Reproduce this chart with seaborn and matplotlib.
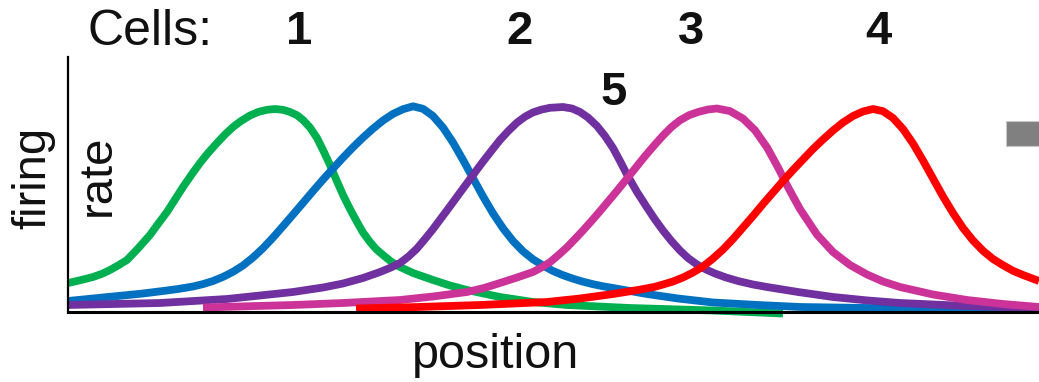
import matplotlib
matplotlib.use("Agg")
import matplotlib.pyplot as plt
from matplotlib.patches import Rectangle
import pandas as pd
import seaborn as sns

# Place-cell tuning curves: firing rate along the track position
pos_cell1 = [0.0, 1.2, 2.5, 3.4, 4.2, 5.0, 5.9, 7.0, 8.2, 9.0, 9.9, 10.7, 11.5, 12.4,
             13.2, 14.0, 14.9, 15.7, 16.5, 17.3, 18.2, 19.0, 19.9, 20.7, 21.5, 22.2,
             22.9, 23.5, 24.2, 24.9, 25.5, 26.2, 26.8, 27.5, 28.2, 28.9, 29.5, 30.2,
             30.8, 31.5, 32.3, 33.2, 34.5, 36.5, 38.2, 39.9, 43.2, 46.5, 49.9, 56.2,
             64.5, 71.5]
rate_cell1 = [2.9, 3.17, 3.5, 3.82, 4.2, 4.65, 5.2, 6.35, 7.7, 8.8, 10.0, 11.25, 12.5, 13.8,
              14.9, 15.9, 16.9, 17.75, 18.5, 19.1, 19.65, 20.0, 20.22, 20.3, 20.22, 20.0,
              19.68, 19.2, 18.45, 17.4, 16.2, 14.7, 13.3, 11.7, 10.3, 9.0, 7.95, 7.0,
              6.3, 5.7, 5.05, 4.5, 3.9, 3.2, 2.65, 2.2, 1.5, 1.0, 0.7, 0.4,
              0.15, -0.15]

pos_cell2 = [0.0, 4.0, 7.5, 9.5, 11.0, 12.5, 13.5, 14.5, 15.5, 16.5, 17.5, 18.5, 19.5,
             20.5, 21.5, 22.5, 23.5, 24.5, 25.5, 26.5, 27.5, 28.5, 29.5, 30.5, 31.5,
             32.5, 33.5, 34.5, 35.5, 36.5, 37.5, 38.5, 39.5, 40.5, 41.5, 42.5, 43.5,
             44.5, 45.5, 46.5, 47.5, 48.5, 49.5, 50.5, 51.5, 52.5, 53.5, 54.5, 56.2,
             57.9, 61.0, 64.5, 69.0, 73.2, 80.0, 88.0, 97.1]
rate_cell2 = [1.1, 1.5, 1.85, 2.1, 2.3, 2.55, 2.79, 3.10, 3.51, 4.02, 4.65, 5.45, 6.38,
              7.44, 8.58, 9.74, 10.91, 12.09, 13.24, 14.35, 15.43, 16.47, 17.44, 18.34, 19.15,
              19.81, 20.28, 20.57, 20.32, 19.60, 18.45, 16.95, 15.21, 13.38, 11.56, 9.87, 8.37,
              7.10, 6.07, 5.27, 4.65, 4.10, 3.68, 3.33, 3.03, 2.78, 2.57, 2.40, 2.1,
              1.8, 1.35, 0.95, 0.7, 0.5, 0.4, 0.3, 0.25]

pos_cell5 = [0.0, 9.2, 15.9, 22.5, 25.5, 27.5, 29.5, 31.2, 32.3, 33.2, 34.05, 34.9, 35.7,
             36.5, 37.35, 38.2, 39.05, 39.9, 40.7, 41.5, 42.35, 43.2, 44.05, 44.9, 45.7,
             46.5, 47.35, 48.2, 49.5, 50.4, 51.2, 52.0, 52.9, 53.7, 54.5, 55.2, 55.9,
             56.9, 57.9, 58.7, 59.5, 60.3, 61.2, 62.0, 62.9, 63.8, 64.7, 65.8, 67.0,
             68.5, 69.9, 73.0, 76.5, 80.0, 83.2, 89.9, 97.1]
rate_cell5 = [0.7, 0.9, 1.3, 2.0, 2.45, 2.85, 3.4, 4.0, 4.45, 4.9, 5.55, 6.35, 7.3,
              8.29, 9.43, 10.57, 11.73, 12.88, 13.97, 15.04, 16.13, 17.2, 18.12, 18.94, 19.53,
              19.96, 20.24, 20.42, 20.5, 20.35, 20.0, 19.45, 18.6, 17.6, 16.4, 15.1, 13.75,
              12.0, 10.45, 9.25, 8.15, 7.15, 6.15, 5.4, 4.75, 4.25, 3.85, 3.45, 3.1,
              2.75, 2.5, 2.0, 1.5, 1.15, 0.9, 0.6, 0.4]

pos_cell3 = [13.5, 22.5, 27.5, 33.2, 36.5, 39.9, 41.6, 43.2, 44.9, 46.5, 47.35, 48.2,
             49.05, 49.9, 50.7, 51.5, 52.35, 53.2, 54.05, 54.9, 55.7, 56.5, 57.2, 57.9,
             58.7, 59.5, 60.35, 61.2, 62.1, 63.0, 64.0, 64.9, 66.2, 67.5, 68.7, 69.9,
             71.0, 72.0, 73.2, 74.9, 76.5, 78.2, 79.9, 81.5, 83.2, 86.5, 89.9, 93.5, 97.1]
rate_cell3 = [0.45, 0.7, 0.9, 1.2, 1.55, 2.0, 2.4, 2.9, 3.45, 4.0, 4.45, 4.98,
              5.7, 6.47, 7.3, 8.15, 9.1, 10.08, 11.1, 12.11, 13.1, 14.09, 14.97, 15.82,
              16.75, 17.64, 18.5, 19.17, 19.68, 20.0, 20.25, 20.35, 20.09, 19.34, 18.17, 16.46,
              14.46, 12.48, 10.29, 7.74, 6.0, 4.7, 3.75, 3.05, 2.5, 1.75, 1.2, 0.8, 0.5]

pos_cell4 = [28.8, 35.0, 41.2, 47.9, 51.2, 54.5, 57.0, 58.6, 59.5, 60.5, 61.5, 62.5,
             63.5, 64.5, 65.5, 66.5, 67.5, 68.5, 69.5, 70.5, 71.5, 72.5, 73.5, 74.5,
             75.5, 76.5, 77.5, 78.5, 79.5, 80.5, 81.5, 82.5, 83.5, 84.5, 85.5, 86.5,
             87.5, 88.5, 89.5, 90.5, 91.5, 92.5, 93.5, 94.5, 95.5, 97.1]
rate_cell4 = [0.35, 0.5, 0.7, 1.0, 1.35, 1.8, 2.2, 2.5, 2.75, 3.05, 3.45, 3.95,
              4.55, 5.35, 6.25, 7.3, 8.45, 9.6, 10.8, 11.95, 13.1, 14.2, 15.25, 16.3,
              17.25, 18.15, 18.95, 19.6, 20.05, 20.3, 20.08, 19.4, 18.3, 16.85, 15.15, 13.35,
              11.55, 9.9, 8.4, 7.15, 6.12, 5.3, 4.68, 4.12, 3.7, 3.1]

cell_ids = ["1", "2", "5", "3", "4"]
cell_colors = ["#00b050", "#0070c0", "#7030a0", "#cc3399", "#ff0000"]

curves = {
    "1": (pos_cell1, rate_cell1),
    "2": (pos_cell2, rate_cell2),
    "5": (pos_cell5, rate_cell5),
    "3": (pos_cell3, rate_cell3),
    "4": (pos_cell4, rate_cell4),
}
frames = [pd.DataFrame({"position": p, "rate": r, "cell": c})
          for c, (p, r) in curves.items()]
df = pd.concat(frames, ignore_index=True)

sns.set_style("white")
plt.rcParams["font.family"] = ["Liberation Sans", "DejaVu Sans"]
plt.rcParams["text.color"] = "#111111"

W, H = 1039, 382
fig = plt.figure(figsize=(W / 100, H / 100), dpi=100)
ax = fig.add_axes([68 / W, 70 / H, 971 / W, 255 / H])

sns.lineplot(data=df, x="position", y="rate", hue="cell", hue_order=cell_ids,
             palette=dict(zip(cell_ids, cell_colors)), sort=False, estimator=None,
             units="cell", linewidth=5.6, legend=False, ax=ax)
for ln in ax.lines:
    ln.set_solid_capstyle("butt")
    ln.set_solid_joinstyle("round")
    ln.set_clip_on(False)

ax.set_xlim(0, 97.1)
ax.set_ylim(0, 25.5)
ax.set_xticks([])
ax.set_yticks([])
ax.set_xlabel("")
ax.set_ylabel("")
for side in ["top", "right"]:
    ax.spines[side].set_visible(False)
ax.spines["left"].set_linewidth(1.6)
ax.spines["bottom"].set_linewidth(2.2)
for side in ["left", "bottom"]:
    ax.spines[side].set_color("black")
    ax.spines[side].set_zorder(5)


def fx(px):
    return px / W


def fy(py):
    return 1 - py / H


fig.text(fx(150), fy(32), "Cells:", fontsize=36, ha="center", va="center")
label_xy = {"1": (299, 32), "2": (519, 32), "3": (691, 32), "4": (878, 32), "5": (614, 93)}
for name, (lx, ly) in label_xy.items():
    fig.text(fx(lx), fy(ly), name, fontsize=34, fontweight="bold", ha="center", va="center")

fig.text(fx(33), fy(178), "firing", fontsize=34, rotation=90, ha="center", va="center")
fig.text(fx(98), fy(175), "rate", fontsize=34, rotation=90, ha="center", va="center")
fig.text(fx(496), fy(355), "position", fontsize=35, ha="center", va="center")

fig.patches.append(Rectangle((fx(1006), fy(146)), fx(40), 25 / H, transform=fig.transFigure,
                             facecolor="#808080", edgecolor="#c8c8c8", linewidth=0.8))

fig.savefig("out.png", dpi=100)
